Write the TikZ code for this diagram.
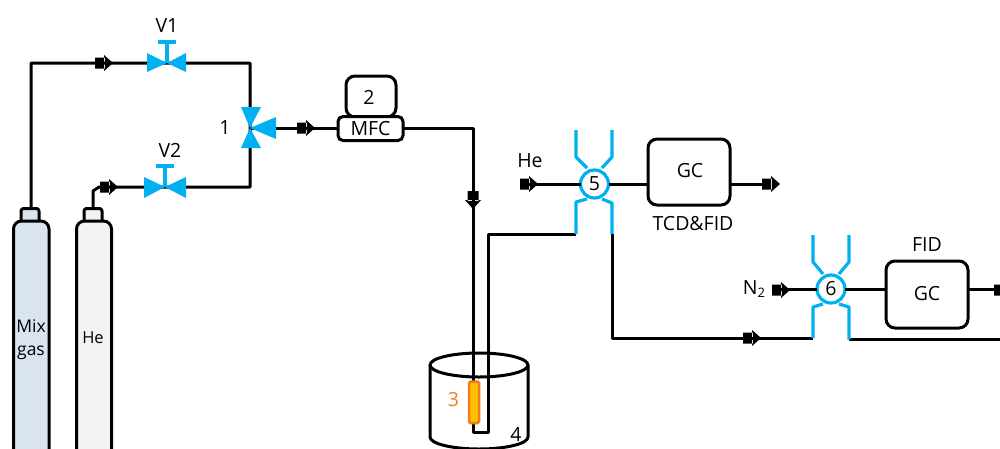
\documentclass[tikz,border=0pt]{standalone}
\usepackage{fontspec}
\setmainfont{Open Sans}
\usetikzlibrary{calc}
\definecolor{vblue}{HTML}{00B0F0}
\definecolor{cat}{HTML}{FFC000}
\definecolor{catl}{HTML}{ED7D1E}
\definecolor{mixf}{HTML}{DAE3F0}
\definecolor{hef}{HTML}{F2F2F2}
\tikzset{
  x=1pt,y=-1pt,
  pipe/.style={line width=3pt,line join=round,black},
  boxn/.style={draw=black,line width=3pt,rounded corners=9pt,inner sep=0pt,outer sep=0pt,fill=white},
  lab/.style={font=\fontsize{19.5}{22}\selectfont,inner sep=0pt},
  vfill/.style={fill=vblue,draw=none},
  vline/.style={draw=vblue,line width=3.2pt,line join=round},
  vring/.style={circle,draw=vblue,line width=3.2pt,fill=white,minimum size=28pt,inner sep=0pt,outer sep=0pt,font=\fontsize{19.5}{22}\selectfont},
  flow/.pic={\fill[black] (-9,-5.5) rectangle (1,5.5) (0,-8) -- (9,0) -- (0,8) -- cycle;}
}
\begin{document}
\begin{tikzpicture}
\path[use as bounding box] (0,0) rectangle (1000,448);
\clip (0,0) rectangle (1000,448);
% named points
\coordinate (mixtop) at (31,208);
\coordinate (hetop) at (93,208);
\coordinate (c1) at (31,63);
\coordinate (v1) at (167,63);
\coordinate (c2) at (250,63);
\coordinate (t1) at (250,128);
\coordinate (c3) at (250,187);
\coordinate (v2) at (165,187);
\coordinate (c4) at (473,128);
\coordinate (tubeb) at (473,432);
\coordinate (tubec) at (488,432);
\coordinate (tubet) at (488,234);
\coordinate (in5) at (521,184);
\coordinate (out5) at (770,184);
\coordinate (a5) at (576,234);
\coordinate (b5) at (612,234);
\coordinate (c5) at (612,338);
\coordinate (a6) at (813,338);
\coordinate (b6) at (849,339.5);
\coordinate (end6) at (1000,339.5);
\coordinate (in6) at (773,289);
\coordinate (out6) at (1000,289);
% cylinders
\draw[pipe,fill=mixf,rounded corners=2.5pt] (21,221) |- (39,208.5) -- (39,221);
\draw[pipe,fill=hef,rounded corners=2.5pt] (84,221) |- (102,208.5) -- (102,221);
\draw[pipe,fill=mixf,rounded corners=8pt] (13.5,470) -- (13.5,221) -- (49,221) -- (49,470);
\draw[pipe,fill=hef,rounded corners=8pt] (76.5,470) -- (76.5,221) -- (111.5,221) -- (111.5,470);
\node[font=\fontsize{17.5}{23}\selectfont,inner sep=0pt,align=center] (mixl) at (31,340) {Mix\\gas};
\node[font=\fontsize{16.5}{20}\selectfont,inner sep=0pt] (hel) at (93,338) {He};
% beaker
\draw[pipe] (430,365) -- (430,437) arc[start angle=180,end angle=0,x radius=49,y radius=12] -- (528,365);
\draw[pipe] (479,365) ellipse[x radius=49,y radius=12];
% gas lines
\draw[pipe] (mixtop) -- (c1) -- (v1) -- (c2) -- (c3) -- (v2) -- (99,187) -- (93,191) -- (hetop);
% mfc
\node[boxn,minimum width=50pt,minimum height=41pt,anchor=north west] (two) at (346,76) {};
\node[lab] (twol) at (369,97) {2};
\node[boxn,minimum width=65pt,minimum height=24pt,anchor=north west,rounded corners=5pt] (mfc) at (338,116.5) {};
\node[lab] (mfcl) at (370.5,129) {MFC};
\draw[pipe] (t1) -- (t1 -| mfc.west);
\draw[pipe] (mfc.east |- c4) -- (c4) -- (tubeb) -- (tubec) -- (tubet) -- (a5);
% GCs
\node[boxn,minimum width=82pt,minimum height=66pt,anchor=north west] (gc1) at (648,139) {};
\node[lab] (gc1l) at (690,171) {GC};
\node[boxn,minimum width=82pt,minimum height=67pt,anchor=north west] (gc2) at (886,261) {};
\node[lab] (gc2l) at (927,294) {GC};
% valve rings
\node[vring] (r5) at (594.5,184) {5};
\node[vring] (r6) at (831,289) {6};
\draw[pipe] (in5) -- (r5);
\draw[pipe] (r5) -- (r5 -| gc1.west);
\draw[pipe] (r5 -| gc1.east) -- (out5);
\draw[pipe] (in6) -- (r6);
\draw[pipe] (r6) -- (r6 -| gc2.west);
\draw[pipe] (r6 -| gc2.east) -- (out6);
\draw[pipe] (b5) -- (c5) -- (a6);
\draw[pipe] (b6) -- (end6);
% valve 5 arms
\draw[vline] (576,130) -- (576,157) -- (587,168);
\draw[vline] (612,130) -- (612,157) -- (602,168);
\draw[vline] (587,199) -- (576,202) -- (a5);
\draw[vline] (602,199) -- (612,203) -- (b5);
% valve 6 arms
\draw[vline] (813,235) -- (813,262) -- (823,274);
\draw[vline] (849,235) -- (849,262) -- (839,274);
\draw[vline] (823,304) -- (813,307) -- (a6);
\draw[vline] (839,304) -- (849,307) -- (b6);
% catalyst
\draw[draw=catl,fill=cat,line width=2.5pt,rounded corners=1.5pt] (469,381.5) rectangle (479,423);
% valves
\fill[vfill] (v1) -- (147,53) -- (147,72) -- cycle (v1) -- (186,53) -- (186,72) -- cycle;
\draw[vline] (v1) -- (167,42);
\draw[vline] (158,42) -- (176,42);
\fill[vfill] (v2) -- (144,177) -- (144,198) -- cycle (v2) -- (186,177) -- (186,198) -- cycle;
\draw[vline] (v2) -- (165,166);
\draw[vline] (156,166) -- (174,166);
\fill[vfill] (t1) -- (241,107) -- (261,107) -- cycle (t1) -- (241,148) -- (261,148) -- cycle (t1) -- (276,117) -- (276,139) -- cycle;
% flow arrows
\path (104,63) pic {flow};
\path (109,187) pic {flow};
\path (306,128) pic {flow};
\path (473,200) pic[rotate=-90] {flow};
\path (529,184) pic {flow};
\path (771,184) pic {flow};
\path (781,290) pic {flow};
\path (752,338) pic {flow};
\path (1003,290) pic {flow};
% labels
\node[lab] (lv1) at (167,26) {V1};
\node[lab] (lv2) at (170,150) {V2};
\node[lab] (l1) at (225,128) {1};
\node[lab] (lhe) at (530,161) {He};
\node[lab] (ltcd) at (693,224) {TCD\&FID};
\node[lab] (ln2) at (754,289) {N\raisebox{-3pt}{\fontsize{13}{14}\selectfont 2}};
\node[lab] (lfid) at (927,245) {FID};
\node[lab,text=catl] (l3) at (453.5,400) {3};
\node[lab] (l4) at (516,434) {4};
\end{tikzpicture}
\end{document}
